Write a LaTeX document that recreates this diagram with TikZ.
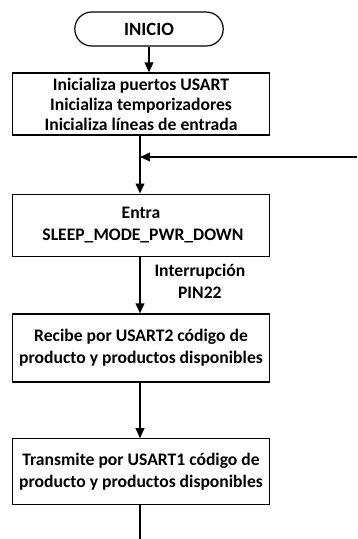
\documentclass[tikz,border=0pt]{standalone}
\usepackage{fontspec}
\setmainfont{Carlito}
\usetikzlibrary{shapes.misc,arrows.meta}
\tikzset{
	caja/.style={draw,line width=0.9pt,align=center,minimum width=193pt,inner sep=2pt,
		font=\bfseries\fontsize{13.2}{16.5}\selectfont},
	terminal/.style={draw,line width=0.9pt,rounded rectangle,minimum width=118pt,minimum height=25.5pt,
		font=\bfseries\fontsize{14}{16}\selectfont},
	flecha/.style={line width=1.1pt,-{Triangle[width=6.5pt,length=7.5pt]}},
	linea/.style={line width=1.1pt}
}
\begin{document}
	\begin{tikzpicture}[x=0.75pt,y=-0.75pt]
		\useasboundingbox (0,0) rectangle (357,539);
		% Inicio
		\node[terminal] (inicio) at (149,29) {INICIO};
		% Bloques
		\node[caja,minimum height=46.5pt,font=\bfseries\fontsize{13.2}{15}\selectfont] (init) at (141,104) {Inicializa puertos USART\\Inicializa temporizadores\\Inicializa líneas de entrada};
		\node[caja,minimum height=47pt] (sleep) at (141,225.5) {Entra\\\ SLEEP\_MODE\_PWR\_DOWN};
		\node[caja,minimum height=51pt] (recibe) at (141,348) {Recibe por USART2 código de\\producto y productos disponibles};
		\node[caja,minimum height=49pt] (transmite) at (141,471.5) {Transmite por USART1 código de\\producto y productos disponibles};
		\coordinate (union) at (140,157);
		\coordinate (retorno) at (357,157);
		\coordinate (fin) at (140,539);
		% Conexiones
		\draw[flecha] (inicio.south) -- (inicio.south |- init.north);
		\draw[flecha] (init.south -| union) -- (sleep.north -| union);
		\draw[flecha] (retorno) -- (union);
		\draw[flecha] (sleep.south -| union) -- node[right,xshift=7pt,yshift=3pt,align=center,
			font=\bfseries\fontsize{13.2}{16.5}\selectfont] {Interrupción\\PIN22} (recibe.north -| union);
		\draw[flecha] (recibe.south -| union) -- (transmite.north -| union);
		\draw[linea] (transmite.south -| fin) -- (fin);
	\end{tikzpicture}
\end{document}
